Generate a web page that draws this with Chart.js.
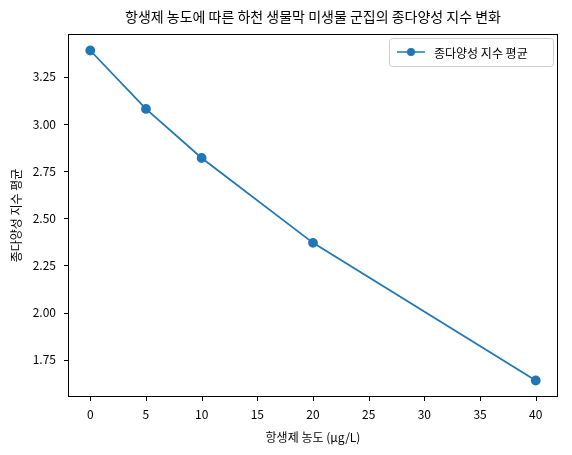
<!DOCTYPE html>
<html><head><meta charset="utf-8">
<script src="https://cdn.jsdelivr.net/npm/chart.js@4/dist/chart.umd.min.js"></script>
<style>html,body{margin:0;padding:0;background:#fff}#c{display:block}</style>
</head><body>
<canvas id="c" width="572" height="455" style="width:572px;height:455px"></canvas>
<script>
const concentrations = [0, 5, 10, 20, 40];
const diversityMean = [3.39, 3.08, 2.82, 2.37, 1.64];
const xTicks = [0, 5, 10, 15, 20, 25, 30, 35, 40];
const yTicks = [1.75, 2.00, 2.25, 2.50, 2.75, 3.00, 3.25];
const seriesLabel = '종다양성 지수 평균';
const chartTitle = '항생제 농도에 따른 하천 생물막 미생물 군집의 종다양성 지수 변화';
const xTitle = '항생제 농도 (μg/L)';
const yTitle = '종다양성 지수 평균';

const FONT = "'Noto Sans CJK KR', 'Noto Sans', sans-serif";
const BLUE = '#1f77b4';

// 프레임, 제목, 축 제목, 범례
const frame = {
  id: 'frame',
  afterDraw(chart) {
    const { ctx, chartArea: a, scales } = chart;
    ctx.save();
    ctx.strokeStyle = '#000';
    ctx.lineWidth = 1;
    ctx.strokeRect(a.left + 0.5, a.top + 0.5, a.right - a.left - 1, a.bottom - a.top - 1);
    xTicks.forEach(v => { const px = Math.round(scales.x.getPixelForValue(v)) + 0.5; ctx.beginPath(); ctx.moveTo(px, a.bottom); ctx.lineTo(px, a.bottom + 4); ctx.stroke(); });
    yTicks.forEach(v => { const py = Math.round(scales.y.getPixelForValue(v)) + 0.5; ctx.beginPath(); ctx.moveTo(a.left, py); ctx.lineTo(a.left - 4, py); ctx.stroke(); });

    const cx = (a.left + a.right) / 2, cy = (a.top + a.bottom) / 2;
    ctx.fillStyle = '#000'; ctx.textAlign = 'center'; ctx.textBaseline = 'middle';
    ctx.font = '14px ' + FONT;
    ctx.fillText(chartTitle, cx, 17);
    ctx.font = '12px ' + FONT;
    ctx.fillText(xTitle, cx, 437);
    ctx.save(); ctx.translate(16, cy); ctx.rotate(-Math.PI / 2); ctx.fillText(yTitle, 0, 0); ctx.restore();

    // legend
    const w = 164, h = 28, x = a.right - w - 5, y = a.top + 4;
    ctx.fillStyle = 'rgba(255,255,255,0.8)';
    ctx.strokeStyle = '#ccc';
    ctx.beginPath(); ctx.roundRect(x + 0.5, y + 0.5, w, h, 3); ctx.fill(); ctx.stroke();
    ctx.strokeStyle = BLUE; ctx.lineWidth = 1.5;
    ctx.beginPath(); ctx.moveTo(x + 8, y + h / 2); ctx.lineTo(x + 36, y + h / 2); ctx.stroke();
    ctx.fillStyle = BLUE;
    ctx.beginPath(); ctx.arc(x + 22, y + h / 2, 4, 0, Math.PI * 2); ctx.fill();
    ctx.fillStyle = '#000'; ctx.font = '12px ' + FONT; ctx.textAlign = 'left';
    ctx.fillText(chart.data.datasets[0].label, x + 45, y + h / 2 + 1);
    ctx.restore();
  }
};

new Chart(document.getElementById('c'), {
  type: 'line',
  data: {
    datasets: [{
      label: seriesLabel,
      data: concentrations.map((c, i) => ({ x: c, y: diversityMean[i] })),
      borderColor: BLUE, backgroundColor: BLUE,
      borderWidth: 1.8, pointRadius: 4, pointHoverRadius: 4,
      tension: 0
    }]
  },
  options: {
    responsive: false, animation: false,
    layout: { padding: { right: 14, top: 34 } },
    plugins: { legend: { display: false }, tooltip: { enabled: false }, title: { display: false } },
    scales: {
      x: {
        type: 'linear', min: -2, max: 42,
        afterBuildTicks: s => { s.ticks = xTicks.map(v => ({ value: v })); },
        afterFit: s => { s.height = 58; },
        grid: { display: false },
        border: { display: false },
        ticks: { color: '#000', font: { family: FONT, size: 12 }, padding: 2 }
      },
      y: {
        min: 1.5525, max: 3.4775,
        afterBuildTicks: s => { s.ticks = yTicks.map(v => ({ value: v })); },
        afterFit: s => { s.width = 68; },
        grid: { display: false },
        border: { display: false },
        ticks: { color: '#000', font: { family: FONT, size: 12 }, padding: 4, callback: v => v.toFixed(2) }
      }
    }
  },
  plugins: [frame]
});
</script>
</body></html>
